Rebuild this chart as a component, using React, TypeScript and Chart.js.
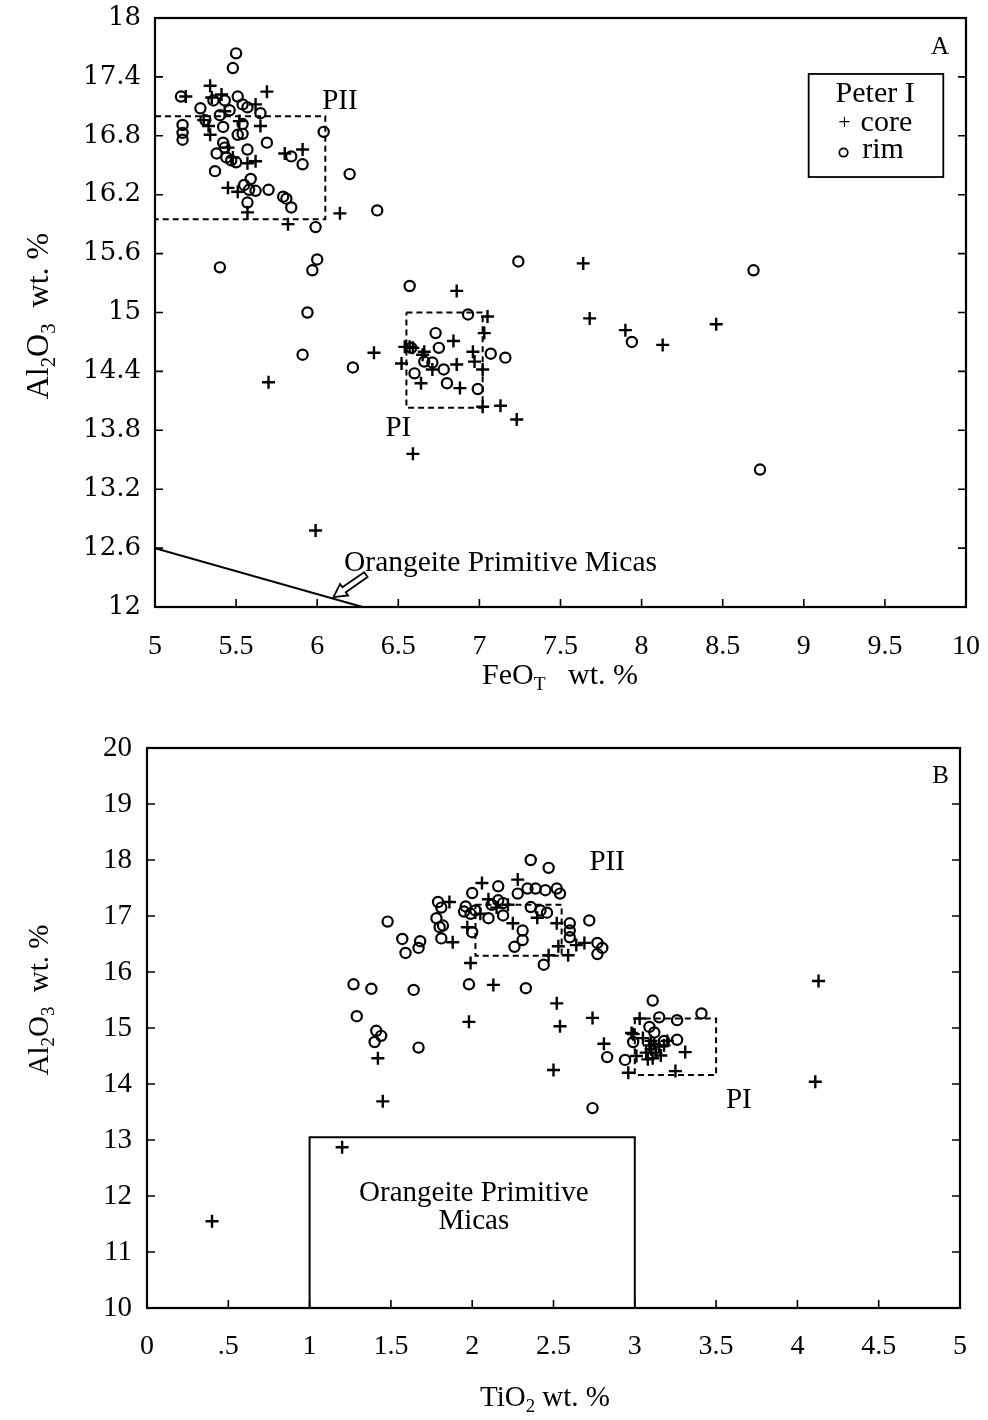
import React, { useEffect, useRef } from "react";
import { Chart, registerables } from "chart.js";
Chart.register(...registerables);

// ---------- tick values & labels ----------
const TOP_X_TICKS = [5, 5.5, 6, 6.5, 7, 7.5, 8, 8.5, 9, 9.5, 10];
const TOP_X_LABELS = ["5", "5.5", "6", "6.5", "7", "7.5", "8", "8.5", "9", "9.5", "10"];
const TOP_Y_TICKS = [12, 12.6, 13.2, 13.8, 14.4, 15, 15.6, 16.2, 16.8, 17.4, 18];
const TOP_Y_LABELS = ["12", "12.6", "13.2", "13.8", "14.4", "15", "15.6", "16.2", "16.8", "17.4", "18"];
const BOT_X_TICKS = [0, 0.5, 1, 1.5, 2, 2.5, 3, 3.5, 4, 4.5, 5];
const BOT_X_LABELS = ["0", ".5", "1", "1.5", "2", "2.5", "3", "3.5", "4", "4.5", "5"];
const BOT_Y_TICKS = [10, 11, 12, 13, 14, 15, 16, 17, 18, 19, 20];
const BOT_Y_LABELS = ["10", "11", "12", "13", "14", "15", "16", "17", "18", "19", "20"];

// ---------- Panel A: FeO_T vs Al2O3 ----------
const TOP_CORE: [number, number][] = [
  [5.34, 17.31], [5.69, 17.25], [5.41, 17.22], [5.35, 17.19], [5.19, 17.2],
  [5.3, 16.96], [5.33, 16.9], [5.34, 16.81], [5.65, 16.9], [5.8, 16.62], [5.91, 16.66],
  [5.57, 16.52], [5.62, 16.54], [5.45, 16.27], [5.51, 16.23], [5.57, 16.02], [5.82, 15.9],
  [6.14, 16.01], [5.45, 16.68], [5.48, 16.58], [5.52, 16.95], [5.43, 17.05], [5.62, 17.12],
  [5.7, 14.29], [6.35, 14.59], [6.86, 15.22], [5.99, 12.78], [6.59, 13.56], [7.23, 13.91],
  [7.02, 14.04], [7.13, 14.05], [7.64, 15.5], [7.68, 14.94], [7.9, 14.82], [8.13, 14.67],
  [8.46, 14.88], [7.05, 14.96], [7.03, 14.79], [6.84, 14.71], [6.54, 14.65], [6.57, 14.65],
  [6.59, 14.64], [6.66, 14.6], [6.65, 14.57], [6.71, 14.42], [6.86, 14.47], [6.96, 14.6],
  [6.97, 14.5], [7.02, 14.42], [6.52, 14.48], [6.64, 14.28], [6.88, 14.23],
];
const TOP_RIM: [number, number][] = [
  [5.5, 17.64], [5.48, 17.49], [5.16, 17.2], [5.28, 17.08], [5.36, 17.16], [5.43, 17.16],
  [5.51, 17.2], [5.54, 17.12], [5.57, 17.09], [5.46, 17.06], [5.4, 17.01], [5.65, 17.03],
  [5.17, 16.91], [5.17, 16.83], [5.17, 16.76], [5.31, 16.96], [5.42, 16.89], [5.54, 16.92],
  [5.51, 16.81], [5.54, 16.82], [5.69, 16.73], [6.04, 16.84], [5.42, 16.73], [5.43, 16.68],
  [5.38, 16.62], [5.44, 16.58], [5.47, 16.55], [5.5, 16.53], [5.57, 16.66], [5.84, 16.59],
  [5.91, 16.51], [5.37, 16.44], [5.59, 16.36], [5.55, 16.3], [5.58, 16.25], [5.62, 16.24],
  [5.7, 16.25], [5.79, 16.18], [5.81, 16.16], [5.84, 16.07], [5.57, 16.12], [6.2, 16.41],
  [5.99, 15.87], [6.37, 16.04], [5.4, 15.46], [6.0, 15.54], [5.97, 15.43], [5.94, 15.0],
  [5.91, 14.57], [6.22, 14.44], [6.57, 15.27], [7.24, 15.52], [8.69, 15.43], [7.94, 14.7],
  [7.07, 14.58], [7.16, 14.54], [8.73, 13.4], [6.93, 14.98], [6.73, 14.79], [6.75, 14.64],
  [6.66, 14.5], [6.71, 14.49], [6.78, 14.42], [6.6, 14.38], [6.8, 14.28], [6.99, 14.22],
  [6.58, 14.64],
];
const TOP_PII_BOX: [number, number][] = [[5, 17.0], [6.05, 17.0], [6.05, 15.95], [5, 15.95]];
const TOP_PI_BOX: [number, number][] = [[6.55, 15.0], [7.02, 15.0], [7.02, 14.03], [6.55, 14.03], [6.55, 15.0]];
const TOP_OPM_LINE: [number, number][] = [[5, 12.6], [6.28, 12.0]];

// ---------- Panel B: TiO2 vs Al2O3 ----------
const BOT_CORE: [number, number][] = [
  [2.06, 17.59], [2.28, 17.65], [1.97, 16.8], [1.88, 16.53], [2.25, 16.87], [2.52, 16.87],
  [2.53, 16.46], [2.64, 16.48], [2.69, 16.52], [2.59, 16.3], [2.47, 16.3], [1.99, 16.16],
  [2.4, 16.97], [1.86, 17.25], [2.1, 17.3], [2.15, 17.15], [2.22, 17.2], [2.05, 17.04],
  [2.13, 15.77], [1.98, 15.11], [2.52, 15.44], [2.54, 15.03], [2.74, 15.18], [2.81, 14.72],
  [2.5, 14.25], [1.42, 14.46], [1.45, 13.69], [2.96, 14.2], [3.03, 15.17], [3.01, 14.5],
  [2.99, 14.89], [3.11, 14.46], [3.31, 14.57], [3.25, 14.23], [3.08, 14.44], [4.13, 15.84],
  [4.11, 14.04], [0.4, 11.55], [1.2, 12.87], [3.05, 14.82], [3.1, 14.77], [3.12, 14.72],
  [3.15, 14.67], [3.1, 14.62], [3.13, 14.56], [3.18, 14.69], [3.2, 14.77], [3.07, 14.56],
  [3.16, 14.51], [3.09, 14.69], [2.98, 14.91],
];
const BOT_RIM: [number, number][] = [
  [2.36, 18.0], [2.47, 17.86], [2.16, 17.53], [2.0, 17.41], [2.02, 17.1], [1.99, 17.04],
  [1.79, 17.25], [1.81, 17.15], [1.78, 16.96], [1.82, 16.83], [1.8, 16.8], [1.48, 16.9],
  [1.57, 16.59], [1.68, 16.55], [1.67, 16.43], [1.59, 16.34], [1.81, 16.6], [2.1, 16.96],
  [2.19, 17.01], [2.12, 17.2], [2.16, 17.28], [2.19, 17.23], [2.0, 16.71], [2.28, 17.4],
  [2.34, 17.49], [2.39, 17.49], [2.45, 17.46], [2.52, 17.49], [2.54, 17.4], [2.36, 17.16],
  [2.42, 17.1], [2.46, 17.06], [2.31, 16.74], [2.31, 16.57], [2.26, 16.45], [2.6, 16.87],
  [2.6, 16.74], [2.6, 16.62], [2.72, 16.92], [2.77, 16.52], [2.8, 16.43], [2.77, 16.32],
  [2.44, 16.13], [1.96, 17.17], [1.95, 17.08], [1.27, 15.78], [1.38, 15.7], [1.64, 15.68],
  [1.98, 15.78], [2.33, 15.71], [1.29, 15.21], [1.41, 14.95], [1.44, 14.86], [1.4, 14.75],
  [1.67, 14.65], [2.74, 13.57], [2.83, 14.48], [2.94, 14.43], [3.11, 15.49], [3.15, 15.19],
  [2.99, 14.75], [3.09, 15.02], [3.26, 15.14], [3.41, 15.26], [3.26, 14.79], [3.12, 14.92],
  [3.18, 14.77],
];
const BOT_PII_BOX: [number, number][] = [[2.02, 17.2], [2.55, 17.2], [2.55, 16.29], [2.02, 16.29], [2.02, 17.2]];
const BOT_PI_BOX: [number, number][] = [[3.0, 15.17], [3.5, 15.17], [3.5, 14.16], [3.0, 14.16], [3.0, 15.17]];
const BOT_OPM_RECT: [number, number][] = [[1, 10], [1, 13.05], [3, 13.05], [3, 10]];

const SERIF = "'Liberation Serif', 'Times New Roman', serif";
const WIDE_SERIF = "'DejaVu Serif', 'Liberation Serif', serif";

type Part = { t: string; sub?: boolean };

function drawRich(ctx: CanvasRenderingContext2D, parts: Part[], cx: number, cy: number, size: number, family: string, rotate = false) {
  ctx.save();
  ctx.translate(cx, cy);
  if (rotate) ctx.rotate(-Math.PI / 2);
  let w = 0;
  for (const p of parts) {
    ctx.font = `${p.sub ? size * 0.65 : size}px ${family}`;
    w += ctx.measureText(p.t).width;
  }
  let x = -w / 2;
  ctx.textBaseline = "middle";
  ctx.textAlign = "left";
  ctx.fillStyle = "#000";
  for (const p of parts) {
    ctx.font = `${p.sub ? size * 0.65 : size}px ${family}`;
    ctx.fillText(p.t, x, p.sub ? size * 0.3 : 0);
    x += ctx.measureText(p.t).width;
  }
  ctx.restore();
}

function text(ctx: CanvasRenderingContext2D, s: string, x: number, y: number, size: number, align: CanvasTextAlign = "center") {
  ctx.save();
  ctx.font = `${size}px ${SERIF}`;
  ctx.fillStyle = "#000";
  ctx.textAlign = align;
  ctx.textBaseline = "middle";
  ctx.fillText(s, x, y);
  ctx.restore();
}

function drawFrameAndTicks(chart: any) {
  const ctx: CanvasRenderingContext2D = chart.ctx;
  const a = chart.chartArea;
  const xs = chart.scales.x;
  const ys = chart.scales.y;
  ctx.save();
  ctx.strokeStyle = "#000";
  ctx.lineWidth = 2.2;
  ctx.strokeRect(a.left, a.top, a.right - a.left, a.bottom - a.top);
  ctx.lineWidth = 1.6;
  const L = 8;
  ctx.beginPath();
  for (const t of xs.ticks) {
    const px = xs.getPixelForValue(t.value);
    ctx.moveTo(px, a.bottom);
    ctx.lineTo(px, a.bottom - L);
  }
  for (const t of ys.ticks) {
    const py = ys.getPixelForValue(t.value);
    ctx.moveTo(a.left, py);
    ctx.lineTo(a.left + L, py);
    ctx.moveTo(a.right, py);
    ctx.lineTo(a.right - L, py);
  }
  ctx.stroke();
  ctx.restore();
}

function lineDs(data: [number, number][], dashed: boolean) {
  return {
    data: data.map(([x, y]) => ({ x, y })),
    showLine: true,
    borderColor: "#000",
    borderWidth: 2,
    borderDash: dashed ? [6, 4] : [],
    pointRadius: 0,
    fill: false,
    tension: 0,
  };
}

function pointDs(label: string, data: [number, number][], style: string) {
  const cross = style === "cross";
  return {
    label,
    data: data.map(([x, y]) => ({ x, y })),
    showLine: false,
    pointStyle: style,
    pointRadius: cross ? 6.5 : 5.1,
    borderWidth: cross ? 2.4 : 2.2,
    borderColor: "#000",
    backgroundColor: "rgba(0,0,0,0)",
  };
}

function axisScale(min: number, max: number, ticks: number[], labels: string[], isX: boolean, fixed: number, font: any, padding: number) {
  return {
    type: "linear",
    min,
    max,
    grid: { display: false, drawTicks: false },
    border: { display: false },
    afterBuildTicks: (s: any) => {
      s.ticks = ticks.map((v) => ({ value: v }));
    },
    afterFit: (s: any) => {
      if (isX) s.height = fixed;
      else s.width = fixed;
      s.paddingTop = 0;
      s.paddingBottom = 0;
      s.paddingLeft = 0;
      s.paddingRight = 0;
    },
    ticks: {
      autoSkip: false,
      maxRotation: 0,
      minRotation: 0,
      color: "#000",
      font,
      padding,
      callback: (_v: any, i: number) => labels[i],
    },
  };
}

const topDeco = {
  id: "topDeco",
  afterDraw(chart: any) {
    const ctx: CanvasRenderingContext2D = chart.ctx;
    const xs = chart.scales.x;
    const ys = chart.scales.y;
    const X = (v: number) => xs.getPixelForValue(v);
    const Y = (v: number) => ys.getPixelForValue(v);
    drawFrameAndTicks(chart);
    text(ctx, "A", X(9.84), Y(17.7), 25);
    text(ctx, "PII", X(6.14), Y(17.15), 29);
    text(ctx, "PI", X(6.5), Y(13.82), 29);
    text(ctx, "Orangeite Primitive Micas", X(7.13), Y(12.45), 29.5);
    // hollow arrow
    const tip = [X(6.1), Y(12.1)];
    const tail = [X(6.3), Y(12.33)];
    const dx = tail[0] - tip[0], dy = tail[1] - tip[1];
    const len = Math.hypot(dx, dy);
    const ux = dx / len, uy = dy / len;
    const nx = -uy, ny = ux;
    const hl = 13, hw = 7, sw = 3;
    const pts = [
      [tip[0], tip[1]],
      [tip[0] + ux * hl + nx * hw, tip[1] + uy * hl + ny * hw],
      [tip[0] + ux * hl + nx * sw, tip[1] + uy * hl + ny * sw],
      [tail[0] + nx * sw, tail[1] + ny * sw],
      [tail[0] - nx * sw, tail[1] - ny * sw],
      [tip[0] + ux * hl - nx * sw, tip[1] + uy * hl - ny * sw],
      [tip[0] + ux * hl - nx * hw, tip[1] + uy * hl - ny * hw],
    ];
    ctx.save();
    ctx.beginPath();
    pts.forEach((p, i) => (i ? ctx.lineTo(p[0], p[1]) : ctx.moveTo(p[0], p[1])));
    ctx.closePath();
    ctx.fillStyle = "#fff";
    ctx.fill();
    ctx.lineWidth = 1.8;
    ctx.strokeStyle = "#000";
    ctx.stroke();
    ctx.restore();
    // legend box
    const lx1 = X(9.03), lx2 = X(9.86), ly1 = Y(17.43), ly2 = Y(16.38);
    ctx.save();
    ctx.lineWidth = 1.8;
    ctx.strokeStyle = "#000";
    ctx.strokeRect(lx1, ly1, lx2 - lx1, ly2 - ly1);
    ctx.restore();
    text(ctx, "Peter I", X(9.44), Y(17.22), 30);
    text(ctx, "+", X(9.25), Y(16.93), 22);
    text(ctx, "core", X(9.35), Y(16.93), 30, "left");
    ctx.save();
    ctx.beginPath();
    ctx.arc(X(9.245), Y(16.65) + 2, 4.2, 0, Math.PI * 2);
    ctx.lineWidth = 1.8;
    ctx.stroke();
    ctx.restore();
    text(ctx, "rim", X(9.36), Y(16.65), 30, "left");
    // axis titles
    drawRich(ctx, [{ t: "FeO" }, { t: "T", sub: true }, { t: "   wt. %" }], 560, 676, 30, SERIF);
    drawRich(ctx, [{ t: "Al" }, { t: "2", sub: true }, { t: "O" }, { t: "3", sub: true }, { t: "  wt. %" }], 40, 316, 32, SERIF, true);
  },
};

const botDeco = {
  id: "botDeco",
  afterDraw(chart: any) {
    const ctx: CanvasRenderingContext2D = chart.ctx;
    const xs = chart.scales.x;
    const ys = chart.scales.y;
    const X = (v: number) => xs.getPixelForValue(v);
    const Y = (v: number) => ys.getPixelForValue(v);
    drawFrameAndTicks(chart);
    text(ctx, "B", X(4.88), Y(19.5), 25);
    text(ctx, "PII", X(2.83), Y(17.96), 29);
    text(ctx, "PI", X(3.64), Y(13.71), 29);
    text(ctx, "Orangeite Primitive", X(2.01), Y(12.05), 29);
    text(ctx, "Micas", X(2.01), Y(11.54), 29);
    drawRich(ctx, [{ t: "TiO" }, { t: "2", sub: true }, { t: " wt. %" }], 545, 698, 29, SERIF);
    drawRich(ctx, [{ t: "Al" }, { t: "2", sub: true }, { t: "O" }, { t: "3", sub: true }, { t: "  wt. %" }], 40, 300, 29, SERIF, true);
  },
};

function makeChart(canvas: HTMLCanvasElement, which: "top" | "bot") {
  const top = which === "top";
  const datasets = top
    ? [lineDs(TOP_PII_BOX, true), lineDs(TOP_PI_BOX, true), lineDs(TOP_OPM_LINE, false), pointDs("core", TOP_CORE, "cross"), pointDs("rim", TOP_RIM, "circle")]
    : [lineDs(BOT_PII_BOX, true), lineDs(BOT_PI_BOX, true), lineDs(BOT_OPM_RECT, false), pointDs("core", BOT_CORE, "cross"), pointDs("rim", BOT_RIM, "circle")];
  const scales = top
    ? {
        x: axisScale(5, 10, TOP_X_TICKS, TOP_X_LABELS, true, 93, { family: SERIF, size: 28 }, 23),
        y: axisScale(12, 18, TOP_Y_TICKS, TOP_Y_LABELS, false, 155, { family: WIDE_SERIF, size: 26 }, 14),
      }
    : {
        x: axisScale(0, 5, BOT_X_TICKS, BOT_X_LABELS, true, 112, { family: SERIF, size: 28 }, 22),
        y: axisScale(10, 20, BOT_Y_TICKS, BOT_Y_LABELS, false, 147, { family: SERIF, size: 29 }, 15),
      };
  return new Chart(canvas, {
    type: "scatter",
    data: { datasets } as any,
    options: {
      animation: false,
      responsive: false,
      devicePixelRatio: 1,
      events: [],
      layout: { padding: top ? { top: 18, right: 22, left: 0, bottom: 0 } : { top: 48, right: 28, left: 0, bottom: 0 } },
      plugins: { legend: { display: false }, tooltip: { enabled: false } },
      scales: scales as any,
    },
    plugins: [top ? topDeco : botDeco],
  });
}

export default function App() {
  const topRef = useRef<HTMLCanvasElement>(null);
  const botRef = useRef<HTMLCanvasElement>(null);
  useEffect(() => {
    const c1 = makeChart(topRef.current!, "top");
    const c2 = makeChart(botRef.current!, "bot");
    return () => {
      c1.destroy();
      c2.destroy();
    };
  }, []);
  return (
    <div style={{ position: "absolute", left: 0, top: 0, width: 988, height: 1420, background: "#fff" }}>
      <canvas ref={topRef} width={988} height={700} style={{ position: "absolute", left: 0, top: 0, width: 988, height: 700 }} />
      <canvas ref={botRef} width={988} height={720} style={{ position: "absolute", left: 0, top: 700, width: 988, height: 720 }} />
    </div>
  );
}
